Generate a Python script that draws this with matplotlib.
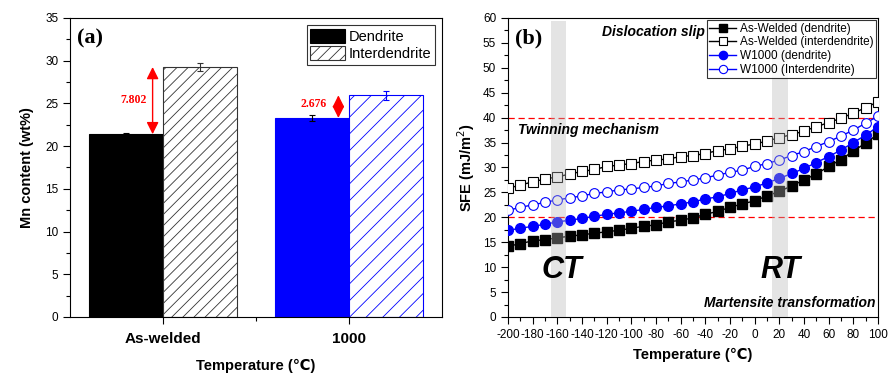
import matplotlib
matplotlib.use("Agg")
import matplotlib.pyplot as plt
import numpy as np
from matplotlib.ticker import MultipleLocator, FixedLocator

plt.rcParams["font.family"] = ["Liberation Sans", "DejaVu Sans"]
plt.rcParams["hatch.linewidth"] = 0.6
plt.rcParams["axes.unicode_minus"] = False

# (a) Mn content bars
groups = ["As-welded", "1000"]
dendrite = [21.4, 23.3]
dendrite_err = [0.1, 0.4]
interdendrite = [29.26, 25.95]
interdendrite_err = [0.5, 0.5]
diff_labels = ["7.802", "2.676"]

# (b) SFE vs temperature
temps = list(range(-200, 101, 10))
aw_dend = [14.2, 14.7, 15.3, 15.5, 15.9, 16.2, 16.5, 16.8, 17.1, 17.4, 17.8,
           18.2, 18.5, 19.1, 19.4, 19.9, 20.6, 21.2, 22.0, 22.7, 23.3,
           24.3, 25.2, 26.3, 27.5, 28.7, 30.2, 31.6, 33.3, 34.9, 36.7]
aw_inter = [25.8, 26.5, 27.1, 27.7, 28.1, 28.7, 29.2, 29.6, 30.2, 30.5, 30.8,
            31.2, 31.5, 31.7, 32.2, 32.4, 32.8, 33.4, 33.7, 34.3, 34.7,
            35.3, 36.0, 36.6, 37.3, 38.2, 39.0, 39.9, 40.9, 42.0, 43.2]
w1000_dend = [17.4, 17.8, 18.2, 18.6, 19.1, 19.4, 19.8, 20.2, 20.6, 20.9, 21.2,
              21.6, 22.0, 22.3, 22.7, 23.1, 23.7, 24.1, 24.8, 25.5, 26.1,
              26.9, 27.8, 28.8, 29.8, 31.0, 32.2, 33.5, 35.0, 36.5, 38.2]
w1000_inter = [21.4, 22.0, 22.5, 23.0, 23.5, 23.9, 24.3, 24.8, 25.1, 25.5, 25.7,
               26.0, 26.3, 26.8, 27.1, 27.5, 27.9, 28.5, 29.0, 29.5, 30.2,
               30.8, 31.5, 32.4, 33.2, 34.2, 35.2, 36.3, 37.5, 38.9, 40.3]

BLUE = "#0000ff"
fig = plt.figure(figsize=(8.9, 3.78), dpi=100)

# ---------------- panel (a)
ax1 = fig.add_axes([0.0787, 0.1614, 0.4179, 0.791])
x = np.arange(len(groups))
w = 0.4
ax1.bar(x - w / 2, dendrite, w, color=["black", BLUE], edgecolor=["black", BLUE],
        linewidth=0.8, label="Dendrite", zorder=2)
ax1.bar(x[0] + w / 2, interdendrite[0], w, color="white", edgecolor="#333333",
        hatch="///", linewidth=0.8, label="Interdendrite", zorder=2)
ax1.bar(x[1] + w / 2, interdendrite[1], w, color="white", edgecolor=BLUE,
        hatch="//", linewidth=0.8, zorder=2)
for i in range(2):
    ax1.errorbar(x[i] - w / 2, dendrite[i], yerr=dendrite_err[i], color="black",
                 capsize=2.5, elinewidth=0.8, capthick=0.8, zorder=3)
ax1.errorbar(x[0] + w / 2, interdendrite[0], yerr=interdendrite_err[0], color="#333333",
             capsize=2.5, elinewidth=0.8, capthick=0.8, zorder=3)
ax1.errorbar(x[1] + w / 2, interdendrite[1], yerr=interdendrite_err[1], color=BLUE,
             capsize=2.5, elinewidth=0.8, capthick=0.8, zorder=3)

# red double arrows and differences
arrow_x = [-0.056, 0.943]
label_x = [-0.16, 0.81]
label_y = [25.4, 24.97]
for i in range(2):
    ax1.annotate("", xy=(arrow_x[i], interdendrite[i]), xytext=(arrow_x[i], dendrite[i]),
                 arrowprops=dict(arrowstyle="<|-|>", color="red", lw=1,
                                 mutation_scale=18, shrinkA=0, shrinkB=0))
    ax1.text(label_x[i], label_y[i], diff_labels[i], color="red", fontsize=8.5,
             fontweight="bold", family="Liberation Serif", ha="center", va="center")

ax1.set_xlim(-0.5, 1.5)
ax1.set_ylim(0, 35)
ax1.set_xticks(x)
ax1.set_xticklabels(groups, fontsize=11, fontweight="bold")
ax1.xaxis.set_minor_locator(FixedLocator([0.5]))
ax1.yaxis.set_major_locator(MultipleLocator(5))
ax1.yaxis.set_minor_locator(MultipleLocator(2.5))
ax1.tick_params(axis="y", labelsize=8.5, direction="out", length=5, width=0.8)
ax1.tick_params(axis="x", direction="out", length=5, width=0.8, pad=6)
ax1.tick_params(which="minor", direction="out", length=3, width=0.8)
ax1.set_ylabel("Mn content (wt%)", fontsize=10.5, fontweight="bold", labelpad=8)
ax1.set_xlabel("Temperature (℃)", fontsize=10.5, fontweight="bold", labelpad=9)
ax1.text(0.02, 0.965, "(a)", transform=ax1.transAxes, fontsize=16, fontweight="bold",
         family="Liberation Serif", ha="left", va="top")
leg1 = ax1.legend(loc="upper right", fontsize=10.5, handlelength=2.4, handleheight=1.1,
                  labelspacing=0.15, handletextpad=0.2, borderpad=0.25,
                  fancybox=False, edgecolor="black", borderaxespad=0.5)
leg1.get_frame().set_linewidth(0.8)

# ---------------- panel (b)
ax2 = fig.add_axes([0.5708, 0.1614, 0.4157, 0.791])
ax2.plot(temps, aw_dend, "-s", color="black", mfc="black", ms=7, lw=1,
         label="As-Welded (dendrite)", zorder=3)
ax2.plot(temps, aw_inter, "-s", color="black", mfc="white", ms=7, lw=1, mew=0.8,
         label="As-Welded (interdendrite)", zorder=3)
ax2.plot(temps, w1000_dend, "-o", color=BLUE, mfc=BLUE, ms=7, lw=1,
         label="W1000 (dendrite)", zorder=3)
ax2.plot(temps, w1000_inter, "-o", color=BLUE, mfc="white", ms=7, lw=1, mew=0.8,
         label="W1000 (Interdendrite)", zorder=3)

for lo, hi in [(-165, -153), (14, 27)]:
    ax2.axvspan(lo, hi, ymin=0, ymax=0.99, color="#b8b8b8", alpha=0.37, lw=0, zorder=4)
for yv in [40, 20]:
    ax2.axhline(yv, color="red", ls=(0, (5, 3)), lw=0.9, zorder=2)

ax2.text(-40, 57.2, "Dislocation slip", fontsize=10, fontweight="bold", style="italic",
         ha="right", va="center", zorder=6)
ax2.text(-192, 37.5, "Twinning mechanism", fontsize=10, fontweight="bold", style="italic",
         ha="left", va="center", zorder=6)
ax2.text(98, 2.8, "Martensite transformation", fontsize=10, fontweight="bold",
         style="italic", ha="right", va="center", zorder=6)
ax2.text(-156, 9.4, "CT", fontsize=22, fontweight="bold", style="italic",
         ha="center", va="center", zorder=6)
ax2.text(21, 9.4, "RT", fontsize=22, fontweight="bold", style="italic",
         ha="center", va="center", zorder=6)
ax2.text(0.02, 0.965, "(b)", transform=ax2.transAxes, fontsize=16, fontweight="bold",
         family="Liberation Serif", ha="left", va="top")

ax2.set_xlim(-200, 100)
ax2.set_ylim(0, 60)
ax2.xaxis.set_major_locator(MultipleLocator(20))
ax2.xaxis.set_minor_locator(MultipleLocator(10))
ax2.yaxis.set_major_locator(MultipleLocator(5))
ax2.yaxis.set_minor_locator(MultipleLocator(2.5))
ax2.tick_params(labelsize=8.5, direction="out", length=5, width=0.8)
ax2.tick_params(which="minor", direction="out", length=3, width=0.8)
ax2.set_ylabel("SFE (mJ/m$^2$)", fontsize=10.5, fontweight="bold", labelpad=4)
ax2.set_xlabel("Temperature (℃)", fontsize=10.5, fontweight="bold", labelpad=5)
leg2 = ax2.legend(loc="upper right", fontsize=8.5, handlelength=2.3, labelspacing=0.15,
                  handletextpad=0.3, borderpad=0.2, fancybox=False, edgecolor="black",
                  borderaxespad=0.2, markerscale=0.85)
leg2.get_frame().set_linewidth(0.8)
leg2.set_zorder(7)

for ax in (ax1, ax2):
    for s in ax.spines.values():
        s.set_linewidth(0.8)

fig.savefig("out.png", dpi=100)
